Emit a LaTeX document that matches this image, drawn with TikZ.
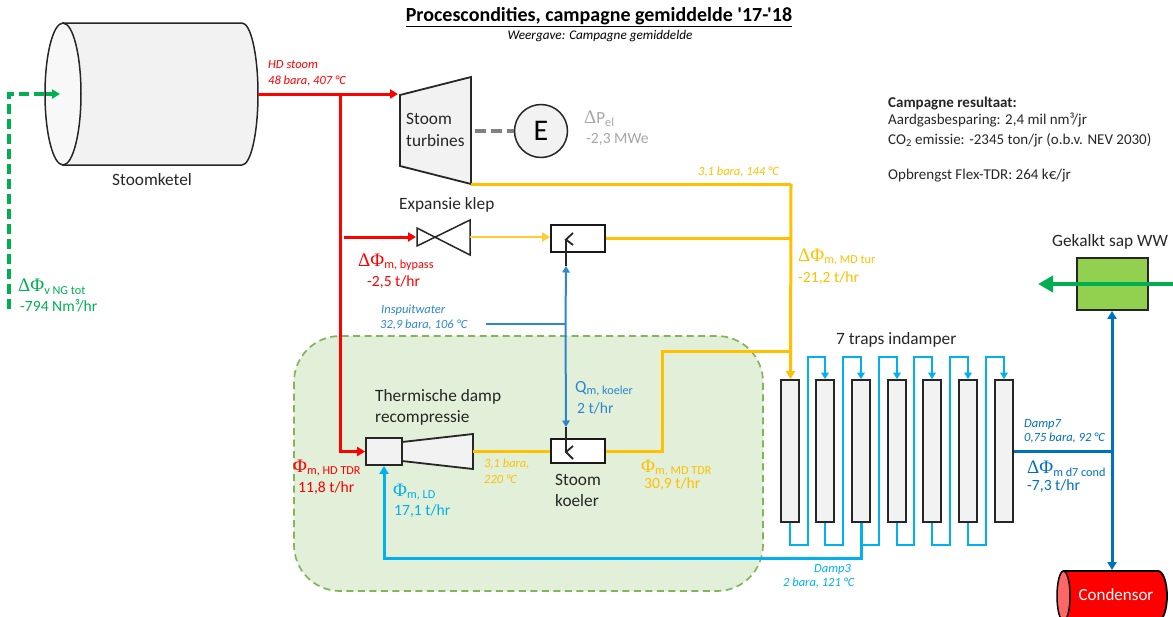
\documentclass[tikz,border=0pt]{standalone}
\usepackage{fontspec}
\setmainfont{Carlito}[Ligatures=TeXOff]
\newfontfamily\serifsym{Liberation Serif}
\usetikzlibrary{arrows.meta,shapes.geometric}
\definecolor{cRed}{HTML}{FF0000}
\definecolor{cYel}{HTML}{FFC000}
\definecolor{cSky}{HTML}{00B0F0}
\definecolor{cBlue}{HTML}{0070C0}
\definecolor{cMid}{HTML}{2E86D0}
\definecolor{cGrn}{HTML}{00B050}
\definecolor{cGray}{HTML}{A6A6A6}
\definecolor{cEq}{HTML}{F2F2F2}
\newcommand{\sym}[1]{{\serifsym\fontsize{19}{19}\selectfont #1}}
\newcommand{\sbs}[1]{\raisebox{-2.5pt}{\fontsize{12.2}{12.2}\selectfont #1}}
\tikzset{
  x=1pt,y=-1pt,
  lab/.style={anchor=west,inner sep=0pt,font=\fontsize{17.3}{17.3}\selectfont,text=black!85},
  vallab/.style={anchor=west,inner sep=0pt,font=\fontsize{15.6}{15.6}\selectfont},
  note/.style={anchor=west,inner sep=0pt,font=\fontsize{12.5}{12.5}\selectfont\itshape},
  res/.style={anchor=west,inner sep=0pt,font=\fontsize{15}{15}\selectfont,text=black!85},
  equip/.style={draw=black!85,line width=1.8pt,fill=cEq,line join=miter},
  tip/.style={-{Triangle[length=8pt,width=9pt]}},
  smalltip/.style={-{Triangle[length=6.5pt,width=7.5pt]}},
  hd/.style={draw=cRed,line width=3pt},
  md/.style={draw=cYel,line width=3pt},
  ldthin/.style={draw=cSky,line width=2.2pt},
  ldthick/.style={draw=cSky,line width=3pt},
  dsev/.style={draw=cBlue,line width=3pt},
  water/.style={draw=cMid,line width=2pt},
}
\newcommand{\col}[2]{\node[equip,minimum width=18pt,minimum height=142pt,inner sep=0pt] (#1) at (#2,451) {};}
\newcommand{\loopp}[3]{% from column #1 via riser x #2 to column #3
  \draw[ldthin,smalltip] (#1.south) |- (#2,545) -- (#2,357) -| (#3.north);}
\begin{document}
\begin{tikzpicture}
\useasboundingbox (0,0) rectangle (1173,616);
\clip (0,0) rectangle (1173,616);
% group
\draw[draw={rgb,255:red,130;green,180;blue,90},fill={rgb,255:red,226;green,239;blue,217},line width=1.7pt,dash pattern=on 7pt off 4.5pt,rounded corners=46pt] (294,336) rectangle (763,591);
% coordinates
\coordinate (boilR) at (258,94);
\coordinate (jHD) at (340.5,94);
\coordinate (turbIn) at (398,94);
\coordinate (bypS) at (344,237);
\coordinate (valveL) at (416,237);
\coordinate (valveR) at (470,237);
\coordinate (turbOut) at (471,184);
\coordinate (turn1) at (791,184);
\coordinate (colIn) at (790.5,379);
\coordinate (jMid) at (791,238.5);
\coordinate (jLow) at (791,351);
\coordinate (kOutBend) at (662,351);
\coordinate (gasS) at (9,309);
\coordinate (gasT) at (60,94);
\coordinate (coneR) at (473,451);
% boiler
\filldraw[equip,line width=1.5pt] (63,23) -- (242,23) arc[x radius=16,y radius=71,start angle=-90,end angle=90] -- (63,165) -- cycle;
\node[equip,line width=1.5pt,fill=cEq!50!white,minimum width=36pt,minimum height=142pt,inner sep=0pt,ellipse] (boiler) at (63,94) {};
\node[lab] (tboiler) at (112,180) {Stoomketel};
% turbine, generator
\filldraw[equip] (400,95) -- (471,77) -- (471,184) -- (400,166) -- cycle;
\node[lab,align=left] (tturb) at (406,130) {Stoom\\[4pt]turbines};
\node[equip,circle,minimum size=53pt,inner sep=0pt,font=\fontsize{30}{30}\selectfont,line width=1.5pt] (gen) at (541,131) {E};
\coordinate (shaft) at (475,131);
\draw[draw=gray,line width=3.5pt,dash pattern=on 11pt off 5pt] (shaft) -- (gen.west);
% valve
\draw[black!85,line width=1.5pt] (417,228) -- (470,255) -- (470,220) -- (417,246) -- cycle;
\node[lab] (tvalve) at (399,205) {Expansie klep};
% mixer top
\node[draw=black!90,line width=1.8pt,fill=white,minimum width=54pt,minimum height=27pt,inner sep=0pt] (mixT) at (578,238.5) {};
\coordinate (mixTs) at (566,266);
\coordinate (mixTt) at (566,239.5);
% mixer bottom
\node[draw=black!90,line width=1.8pt,fill=white,minimum width=54pt,minimum height=24pt,inner sep=0pt] (mixB) at (578,451) {};
\coordinate (mixBs) at (566,427);
\coordinate (mixBt) at (566,452);
% TDR
\filldraw[equip] (402,442) -- (473,434) -- (473,469) -- (402,461) -- cycle;
\node[equip,minimum width=36pt,minimum height=27pt,inner sep=0pt] (tdr) at (384,451.5) {};
% lines
\draw[hd] (boilR) -- (jHD);
\draw[hd,tip] (jHD) -- (turbIn);
\draw[hd,tip] (jHD) |- (tdr.west);
\draw[hd,tip] (bypS) -- (valveL);
\draw[md] (turbOut) -- (turn1);
\draw[md,tip] (turn1) -- (colIn);
\draw[draw={rgb,255:red,255;green,204;blue,51},line width=2.6pt,tip] (valveR) -- (mixT.west |- valveR);
\draw[md] (mixT.east) -- (jMid);
\draw[md] (coneR) -- (mixB.west);
\draw[md] (mixB.east) -| (kOutBend) -- (jLow);
% water
\coordinate (wS) at (486,323.5);
\coordinate (wJ) at (565.5,323.5);
\draw[water] (wS) -- (wJ);
\draw[water,smalltip] (wJ) -- (mixTs);
\draw[water,smalltip] (wJ) -- (mixBs);
\draw[black!85,line width=1.8pt] (mixTs) -- (mixTt);
\draw[black!85,line width=1.8pt] (mixBs) -- (mixBt);
\draw[black!85,line width=1.8pt] (573,233) -- (566,239.5) -- (573,245);
\draw[black!85,line width=1.8pt] (573,446) -- (566,452) -- (573,459);
% columns
\col{c1}{790} \col{c2}{825} \col{c3}{861} \col{c4}{897} \col{c5}{932} \col{c6}{968} \col{c7}{1004}
\loopp{c1}{808}{c2}
\loopp{c2}{843}{c3}
\loopp{c3}{879}{c4}
\loopp{c4}{914}{c5}
\loopp{c5}{950}{c6}
\loopp{c6}{986}{c7}
\draw[ldthick,tip] (c3.south) |- (384,558) -- (tdr.south);
% sap and condensor
\node[draw=black!85,line width=1.8pt,fill={rgb,255:red,146;green,208;blue,80},minimum width=71pt,minimum height=52pt,inner sep=0pt] (sap) at (1112.5,284) {};
\coordinate (sapIn) at (1173,284);
\coordinate (sapOut) at (1038,284);
\draw[draw=cGrn,line width=4.6pt,-{Triangle[length=15pt,width=16pt]}] (sapIn) -- (sapOut);
\filldraw[draw=black,line width=1.8pt,fill=cRed] (1064,571) -- (1158,571) arc[x radius=9,y radius=25,start angle=-90,end angle=90] -- (1064,621) -- cycle;
\node[draw=black,line width=1.5pt,fill={rgb,255:red,255;green,102;blue,102},ellipse,minimum width=13pt,minimum height=50pt,inner sep=0pt] (cond) at (1063.5,596) {};
\node[anchor=center,inner sep=0pt,text=white,font=\fontsize{17}{17}\selectfont] (tcond) at (1116,595) {Condensor};
\coordinate (cIn) at (1112,570);
\coordinate (j7) at (1112,451.5);
\draw[dsev] (c7.east |- j7) -- (j7);
\draw[dsev,tip] (j7) -- (sap.south -| j7);
\draw[dsev,tip] (j7) -- (cIn);
% gas
\coordinate (gasM) at (46,94);
\draw[draw=cGrn,line width=3.2pt,dash pattern=on 10pt off 5pt] (gasS) |- (gasM);
\draw[draw=cGrn,line width=3.2pt,tip] (gasM) -- (gasT);
% titles
\node[anchor=center,inner sep=0pt,font=\fontsize{20}{20}\selectfont\bfseries] (title) at (599,17) {\underline{Procescondities, campagne gemiddelde '17-'18}};
\node[anchor=center,inner sep=0pt,font=\fontsize{13.2}{13.2}\selectfont\itshape] (sub) at (600,36) {Weergave: Campagne gemiddelde};
% labels
\node[note,text=cRed] (a1) at (268,65) {HD stoom};
\node[note,text=cRed] (a2) at (268,81) {48 bara, 407 °C};
\node[vallab,text=cGray] (a3) at (584,119) {\sym{Δ}\fontsize{17}{17}\selectfont P\sbs{el}};
\node[vallab,text=cGray] (a4) at (586,139) {-2,3 MWe};
\node[note,text=cYel] (a5) at (698,172) {3,1 bara, 144 °C};
\node[vallab,text=cRed] (a6) at (358,262) {\sym{ΔΦ}\sbs{m, bypass}};
\node[vallab,text=cRed] (a7) at (367,282) {-2,5 t/hr};
\node[note,text=cMid] (a8) at (381,310) {Inspuitwater};
\node[note,text=cMid] (a9) at (380,325) {32,9 bara, 106 °C};
\node[vallab,text=cYel] (a10) at (798,257) {\sym{ΔΦ}\sbs{m, MD tur}};
\node[vallab,text=cYel] (a11) at (798,278) {-21,2 t/hr};
\node[vallab,text=cGrn] (a12) at (18,287) {\sym{ΔΦ}\sbs{v NG tot}};
\node[vallab,text=cGrn] (a13) at (20,306) {-794 Nm³/hr};
\node[res,font=\fontsize{15}{15}\selectfont\bfseries] (r1) at (888,104) {Campagne resultaat:};
\node[res] (r2) at (888,120) {Aardgasbesparing: 2,4 mil nm³/jr};
\node[res] (r3) at (888,140) {CO\textsubscript{2} emissie: -2345 ton/jr (o.b.v. NEV 2030)};
\node[res] (r4) at (888,176) {Opbrengst Flex-TDR: 264 k€/jr};
\node[lab] (t1) at (1052,242) {Gekalkt sap WW};
\node[lab] (t2) at (836,340) {7 traps indamper};
\node[lab] (t3) at (375,397) {Thermische damp};
\node[lab] (t4) at (375,418) {recompressie};
\node[lab] (t5) at (555,480) {Stoom};
\node[lab] (t6) at (555,501) {koeler};
\node[vallab,text=cRed] (b1) at (293,468) {\sym{Φ}\sbs{m, HD TDR}};
\node[vallab,text=cRed] (b2) at (298,488) {11,8 t/hr};
\node[vallab,text=cSky] (b3) at (393,492) {\sym{Φ}\sbs{m, LD}};
\node[vallab,text=cSky] (b4) at (394,511) {17,1 t/hr};
\node[note,text=cYel] (b5) at (484,464) {3,1 bara,};
\node[note,text=cYel] (b6) at (484,479) {220 °C};
\node[vallab,text=cMid] (b7) at (575,389) {\fontsize{17}{17}\selectfont Q\sbs{m, koeler}};
\node[vallab,text=cMid] (b8) at (577,408) {2 t/hr};
\node[vallab,text=cYel] (b9) at (641,468) {\sym{Φ}\sbs{m, MD TDR}};
\node[vallab,text=cYel] (b10) at (644,484) {30,9 t/hr};
\node[note,text=cSky] (b11) at (814,569) {Damp3};
\node[note,text=cSky] (b12) at (783,583) {2 bara, 121 °C};
\node[note,text=cBlue] (b13) at (1024,424) {Damp7};
\node[note,text=cBlue] (b14) at (1024,438) {0,75 bara, 92 °C};
\node[vallab,text=cBlue] (b15) at (1027,469) {\sym{ΔΦ}\sbs{m d7 cond}};
\node[vallab,text=cBlue] (b16) at (1027,486) {-7,3 t/hr};
\end{tikzpicture}
\end{document}
